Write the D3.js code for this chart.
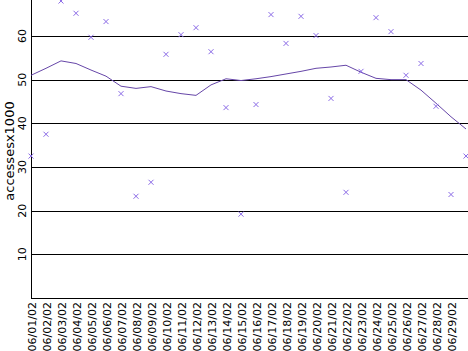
<!DOCTYPE html>
<html><head><meta charset="utf-8">
<script src="https://cdn.jsdelivr.net/npm/d3@7/dist/d3.min.js"></script>
<style>body{margin:0;background:#fff}svg{display:block}</style>
</head><body>
<svg id="c" width="468" height="351"></svg>
<script>
const days = d3.range(1, 31).map(d => "06/" + String(d).padStart(2, "0") + "/02");
const tickLabels = days.slice(0, 29);
const accesses = [32.5, 37.5, 68.0, 65.2, 59.7, 63.3, 46.8, 23.3, 26.5, 55.8,
  60.3, 61.9, 56.4, 43.6, 19.2, 44.3, 64.9, 58.3, 64.5, 60.1,
  45.7, 24.2, 51.9, 64.2, 61.0, 51.0, 53.7, 43.9, 23.7, 32.5];
const trend = [51.0, 52.6, 54.3, 53.7, 52.2, 50.8, 48.5, 48.0, 48.4, 47.4,
  46.8, 46.4, 48.8, 50.2, 49.8, 50.2, 50.7, 51.3, 51.9, 52.6,
  52.9, 53.3, 51.7, 50.3, 50.0, 50.0, 47.6, 44.6, 41.5, 38.7];
const yTicks = [10, 20, 30, 40, 50, 60];

const svg = d3.select("#c");
const x = d3.scalePoint().domain(days).range([31, 466]);
const y = d3.scaleLinear().domain([0, 68.24]).range([298, 0]);

// gridlines
svg.append("g").selectAll("line").data([0].concat(yTicks)).join("line")
  .attr("x1", 31).attr("x2", 468)
  .attr("y1", d => Math.round(y(d)) + 0.5).attr("y2", d => Math.round(y(d)) + 0.5)
  .attr("stroke", "#000").attr("stroke-width", 1).attr("shape-rendering", "crispEdges");
// y axis line
svg.append("line").attr("x1", 31.5).attr("x2", 31.5).attr("y1", 0).attr("y2", 298.5)
  .attr("stroke", "#000").attr("shape-rendering", "crispEdges");

// y tick labels
svg.append("g").selectAll("text").data(yTicks).join("text")
  .attr("transform", d => `translate(22,${y(d)}) rotate(-90)`)
  .attr("text-anchor", "middle").attr("dy", "0.35em")
  .attr("font-family", "DejaVu Sans").attr("font-size", 11)
  .text(d => d);

// y axis title
svg.append("text").attr("transform", "translate(9,151) rotate(-90)")
  .attr("text-anchor", "middle").attr("dy", "0.35em")
  .attr("font-family", "DejaVu Sans").attr("font-size", 13)
  .text("accessesx1000");

// x tick labels
svg.append("g").selectAll("text").data(tickLabels).join("text")
  .attr("transform", d => `translate(${x(d) + 1},302) rotate(-90)`)
  .attr("text-anchor", "end").attr("dy", "0.35em")
  .attr("font-family", "DejaVu Sans").attr("font-size", 11)
  .text(d => d);

// trend line
svg.append("path").datum(days)
  .attr("d", d3.line().x(d => x(d)).y((d, i) => y(trend[i])))
  .attr("fill", "none").attr("stroke", "#6646a8").attr("stroke-width", 1);

// points
svg.append("g").selectAll("path").data(days).join("path")
  .attr("d", (d, i) => {
    const cx = x(d), cy = y(accesses[i]), r = 2.5;
    return `M${cx - r},${cy - r}L${cx + r},${cy + r}M${cx - r},${cy + r}L${cx + r},${cy - r}`;
  })
  .attr("stroke", "#8a6ae6").attr("stroke-width", 1).attr("fill", "none");
</script>
</body></html>
